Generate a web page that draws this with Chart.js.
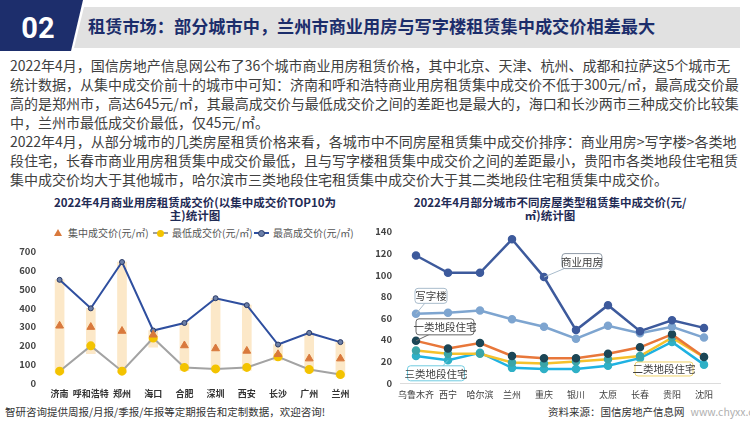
<!DOCTYPE html>
<html>
<head>
<meta charset="utf-8">
<script src="https://cdn.jsdelivr.net/npm/chart.js@4.4.1/dist/chart.umd.min.js"></script>
<style>
  body { margin: 0; width: 750px; height: 422px; overflow: hidden; background: #fff;
         font-family: "Noto Sans CJK SC", "Noto Sans", sans-serif; position: relative; }
  .abs { position: absolute; }
  canvas.abs { z-index: 2; }
  #greyBar { left: 74px; top: 7px; width: 666px; height: 41px; background: #e1e1e1;
             clip-path: polygon(10px 0, 100% 0, 100% 100%, 0 100%); }
  #navy { left: 0; top: 0; width: 83px; height: 51px; background: #1d2e6c;
          clip-path: polygon(0 0, 100% 0, calc(100% - 12px) 100%, 0 100%); }
  #num { left: 14px; top: 8px; width: 48px; text-align: center; color: #fff;
         font: bold 29px Roboto, sans-serif; line-height: 40px; }
  #headTitle { left: 88px; top: 14px; color: #1b2d6b; font-weight: bold; font-size: 17.2px;
               line-height: 24px; white-space: nowrap; }
  #para { left: 10px; top: 56px; color: #404040; font-size: 14px; line-height: 19px; white-space: nowrap; }
  .ctitle { color: #1f2b55; font-weight: bold; font-size: 11.5px; line-height: 12.5px;
            text-align: center; white-space: nowrap; }
  #legend { left: 54px; top: 226px; font-size: 10px; color: #555; white-space: nowrap; }
  #legend span.item { position: absolute; top: 0; line-height: 14px; }
  .tri { display: inline-block; width: 0; height: 0; border-left: 4px solid transparent;
         border-right: 4px solid transparent; border-bottom: 7px solid #d9793c; margin-right: 6px; vertical-align: 1px; }
  .lineicon { display: inline-block; position: relative; width: 15px; height: 2px; margin-right: 4px; vertical-align: 3px; }
  .lineicon i { position: absolute; left: 4px; top: -2.5px; width: 7px; height: 7px; border-radius: 50%; }
  #footL { left: 5px; top: 404px; font-size: 10.5px; color: #333; white-space: nowrap; line-height: 16px; }
  #footR { left: 548px; top: 404px; font-size: 10.5px; color: #333; white-space: nowrap; line-height: 16px; }
  #footR span { color: #b0b0b0; margin-left: 6px; }
</style>
</head>
<body>
<div id="greyBar" class="abs"></div>
<div id="navy" class="abs"></div>
<div id="num" class="abs">02</div>
<div id="headTitle" class="abs">租赁市场：部分城市中，兰州市商业用房与写字楼租赁集中成交价相差最大</div>

<div id="para" class="abs">2022年4月，国信房地产信息网公布了36个城市商业用房租赁价格，其中北京、天津、杭州、成都和拉萨这5个城市无<br>统计数据，从集中成交价前十的城市中可知：济南和呼和浩特商业用房租赁集中成交价不低于300元/㎡，最高成交价最<br>高的是郑州市，高达645元/㎡，其最高成交价与最低成交价之间的差距也是最大的，海口和长沙两市三种成交价比较集<br>中，兰州市最低成交价最低，仅45元/㎡。<br>2022年4月，从部分城市的几类房屋租赁价格来看，各城市中不同房屋租赁集中成交价排序：商业用房&gt;写字楼&gt;各类地<br>段住宅，长春市商业用房租赁集中成交价最低，且与写字楼租赁集中成交价之间的差距最小，贵阳市各类地段住宅租赁<br>集中成交价均大于其他城市，哈尔滨市三类地段住宅租赁集中成交价大于其二类地段住宅租赁集中成交价。</div>

<div class="abs ctitle" style="left:45px;top:196px;width:300px;">2022年4月商业用房租赁成交价(以集中成交价TOP10为<br>主)统计图</div>
<div id="legend" class="abs">
  <span class="item" style="left:0"><span class="tri"></span>集中成交价(元/㎡)</span>
  <span class="item" style="left:99px"><span class="lineicon" style="background:#a0a0a0"><i style="background:#f3c300"></i></span>最低成交价(元/㎡)</span>
  <span class="item" style="left:200px"><span class="lineicon" style="background:#2f4f9f"><i style="background:#6b7fa8;border:1px solid #2b3a66;width:5px;height:5px;top:-2.5px"></i></span>最高成交价(元/㎡)</span>
</div>

<div class="abs ctitle" style="left:400px;top:196px;width:300px;">2022年4月部分城市不同房屋类型租赁集中成交价(元/<br>㎡)统计图</div>

<div id="footL" class="abs">智研咨询提供周报/月报/季报/年报等定期报告和定制数据，欢迎咨询!</div>
<div id="footR" class="abs">资料来源：国信房地产信息网<span>www.chyxx.com</span></div>

<canvas id="leftChart" class="abs" width="362" height="164" style="left:0;top:238px"></canvas>
<canvas id="rightChart" class="abs" width="365" height="184" style="left:365px;top:218px"></canvas>

<script>
// Left chart: commercial rent, top-10 cities by median deal price
const leftCities = ['济南', '呼和浩特', '郑州', '海口', '合肥', '深圳', '西安', '长沙', '广州', '兰州'];
const midPrice = [305, 298, 277, 257, 200, 184, 171, 153, 130, 130];
const minPrice = [63, 198, 63, 240, 83, 75, 83, 140, 72, 45];
const maxPrice = [550, 398, 645, 280, 320, 452, 415, 205, 267, 218];
const bandLow = [52, 156, 55, 191, 66, 67, 67, 121, 59, 32];

// Right chart: rent by property type
const rightCities = ['乌鲁木齐', '西宁', '哈尔滨', '兰州', '重庆', '银川', '太原', '长春', '贵阳', '沈阳'];
const commercial = [118, 102, 102, 133, 98, 49, 72, 48, 58, 51];
const office = [64, 65, 67, 59, 52, 41, 53, 46, 52, 42];
const resA = [39, 32, 37, 25, 23, 23, 27, 33, 45, 24];
const resB = [30, 27, 27, 19, 18, 20, 22, 25, 42, 24];
const resC = [25, 21, 28, 14, 13, 13, 16, 23, 38, 17];
const seriesNames = ['商业用房', '写字楼', '一类地段住宅', '二类地段住宅', '三类地段住宅'];

const fontFamily = '"Noto Sans CJK SC", "Noto Sans", sans-serif';
Chart.defaults.font.family = fontFamily;

// warm up the canvas fonts once before the charts draw their tick labels
(function warmFonts() {
  const c = document.createElement('canvas');
  c.width = 60; c.height = 20;
  const ctx = c.getContext('2d');
  ['bold 9.5px', 'bold 9px', '9px', '10.5px'].forEach(f => {
    ctx.font = f + ' ' + fontFamily;
    ctx.fillText('0123456789济南', 0, 12);
    ctx.measureText('700');
  });
})();

const leftChart = new Chart(document.getElementById('leftChart'), {
  type: 'bar',
  data: {
    labels: leftCities,
    datasets: [
      {
        type: 'line', label: '集中成交价(元/㎡)', data: midPrice, showLine: false,
        pointStyle: 'triangle', pointRadius: 4.5,
        backgroundColor: '#d9793c', borderColor: '#d9793c', order: 1
      },
      {
        type: 'line', label: '最高成交价(元/㎡)', data: maxPrice,
        borderColor: '#2f4f9f', borderWidth: 2, tension: 0,
        pointRadius: 2.5, pointBackgroundColor: '#6b7fa8', pointBorderColor: '#2b3a66', pointBorderWidth: 1,
        order: 2
      },
      {
        type: 'line', label: '最低成交价(元/㎡)', data: minPrice,
        borderColor: '#a3a3a3', borderWidth: 2, tension: 0,
        pointRadius: 3.5, pointBackgroundColor: '#f3c300', pointBorderColor: '#f3c300',
        order: 3
      },
      {
        type: 'bar', label: 'range', data: bandLow.map((v, i) => [v, maxPrice[i]]),
        backgroundColor: '#fce8c8', barThickness: 9, order: 4
      }
    ]
  },
  options: {
    responsive: false,
    animation: false,
    events: [],
    layout: { padding: { top: 6, right: 0 } },
    plugins: { legend: { display: false }, tooltip: { enabled: false } },
    scales: {
      x: {
        grid: { display: false, drawTicks: false }, border: { display: false },
        ticks: { font: { size: 9, weight: 'bold' }, color: '#333', padding: 5,
                 maxRotation: 0, minRotation: 0, autoSkip: false },
        afterFit(axis) { axis.height = 19; }
      },
      y: {
        min: 0, max: 700,
        grid: { display: false, drawTicks: false }, border: { display: false },
        ticks: { stepSize: 100, autoSkip: false, font: { size: 9.5, weight: 'bold' }, color: '#444', padding: 8 },
        afterFit(axis) { axis.width = 44; }
      }
    }
  }
});

// callout boxes on the right chart
const callouts = [
  { ds: 0, idx: 4, dx: 38, dy: -16, w: 40, h: 15, border: '#8f9aa6', leader: '#a9bccc' },
  { ds: 1, idx: 0, dx: 15, dy: -18, w: 32, h: 15, border: '#a9bccc', leader: '#a9bccc' },
  { ds: 2, idx: 0, dx: 29, dy: -14, w: 58, h: 16, border: '#666', leader: '#666' },
  { ds: 3, idx: 7, dx: 24, dy: 13, w: 58, h: 14, border: '#f0d46a', leader: null },
  { ds: 4, idx: 1, dx: -12, dy: 13, w: 57, h: 15, border: '#6fcbe0', leader: '#6fcbe0' }
];

const calloutPlugin = {
  id: 'callouts',
  afterDatasetsDraw(chart) {
    const ctx = chart.ctx;
    callouts.forEach(c => {
      const pt = chart.getDatasetMeta(c.ds).data[c.idx];
      const cx = pt.x + c.dx, cy = pt.y + c.dy;
      ctx.save();
      if (c.leader) {
        ctx.strokeStyle = c.leader;
        ctx.lineWidth = 1;
        ctx.beginPath();
        ctx.moveTo(pt.x, pt.y);
        ctx.lineTo(cx, cy);
        ctx.stroke();
      }
      ctx.fillStyle = '#fff';
      ctx.strokeStyle = c.border;
      ctx.lineWidth = 1;
      ctx.beginPath();
      ctx.roundRect(cx - c.w / 2, cy - c.h / 2, c.w, c.h, 3);
      ctx.fill();
      ctx.stroke();
      ctx.fillStyle = '#404040';
      ctx.font = '10.5px ' + fontFamily;
      ctx.textAlign = 'center';
      ctx.textBaseline = 'middle';
      ctx.fillText(seriesNames[c.ds], cx, cy + 0.5);
      ctx.restore();
    });
  }
};

function lineSet(label, data, color, pointColor) {
  return {
    label: label, data: data, borderColor: color, borderWidth: 2.5, tension: 0,
    pointRadius: 3, pointBackgroundColor: pointColor, pointBorderColor: pointColor
  };
}

const rightChart = new Chart(document.getElementById('rightChart'), {
  type: 'line',
  data: {
    labels: rightCities,
    datasets: [
      lineSet(seriesNames[0], commercial, '#3d5a9c', '#3d5a9c'),
      lineSet(seriesNames[1], office, '#7ea5d0', '#7ea5d0'),
      lineSet(seriesNames[2], resA, '#e8773a', '#1c4656'),
      lineSet(seriesNames[3], resB, '#f5c12c', '#3ba5a8'),
      lineSet(seriesNames[4], resC, '#1fb2e2', '#2fb0c6')
    ]
  },
  options: {
    responsive: false,
    animation: false,
    events: [],
    layout: { padding: { top: 6, right: 10 } },
    plugins: { legend: { display: false }, tooltip: { enabled: false } },
    scales: {
      x: {
        offset: true,
        grid: { drawOnChartArea: false, drawTicks: false },
        border: { color: '#dcdcdc' },
        ticks: { font: { size: 9 }, color: '#404040', padding: 6,
                 maxRotation: 0, minRotation: 0, autoSkip: false },
        afterFit(axis) { axis.height = 19; }
      },
      y: {
        min: 0, max: 140,
        grid: { display: false, drawTicks: false }, border: { display: false },
        ticks: { stepSize: 20, autoSkip: false, font: { size: 9.5, weight: 'bold' }, color: '#444', padding: 8 },
        afterFit(axis) { axis.width = 35; }
      }
    }
  },
  plugins: [calloutPlugin]
});

// redraw once fonts and the page are fully ready
function redrawAll() {
  leftChart.update();
  rightChart.update();
}
if (document.fonts && document.fonts.ready) document.fonts.ready.then(redrawAll);
window.addEventListener('load', redrawAll);
</script>
</body>
</html>
